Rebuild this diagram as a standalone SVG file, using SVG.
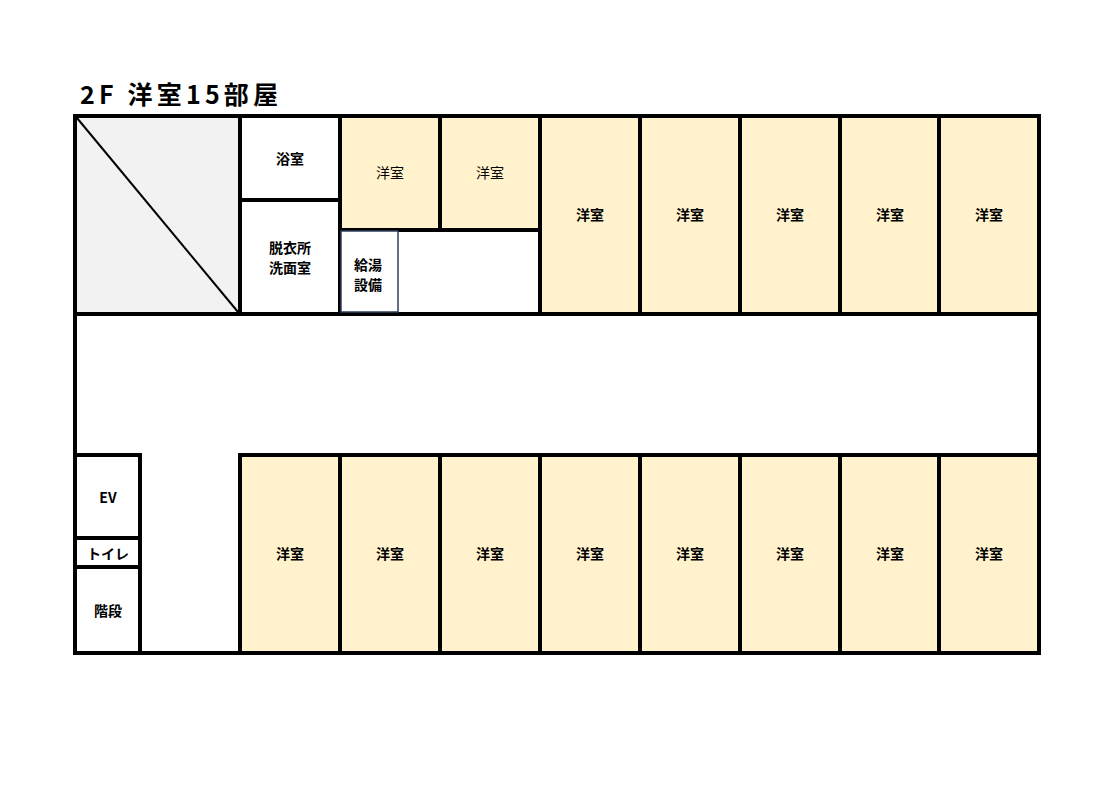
<svg xmlns="http://www.w3.org/2000/svg" width="1117" height="785" viewBox="0 0 1117 785">
<style>
.w{fill:#fff;stroke:#000;stroke-width:4}
.r{fill:#FFF2CC;stroke:#000;stroke-width:4}
.g{fill:#F2F2F2;stroke:#000;stroke-width:4}
text{font-family:"Noto Sans CJK JP",sans-serif;font-size:14px;text-anchor:middle;dominant-baseline:central;fill:#000;font-weight:bold}
.n{font-weight:normal}
</style>
<rect width="1117" height="785" fill="#fff"/>
<text x="80" y="93" style="font-size:25px;text-anchor:start" textLength="198" lengthAdjust="spacing">2F  洋室15部屋</text>
<g id="outer"><rect class="w" x="75" y="116" width="964" height="537"/></g>
<g id="void"><rect class="g" x="75" y="116" width="165" height="198"/><line x1="77" y1="118" x2="238" y2="312" stroke="#000" stroke-width="2"/></g>
<g id="bath"><rect class="w" x="240" y="116" width="100" height="84"/><text x="290" y="158">浴室</text></g>
<g id="dressing"><rect class="w" x="240" y="200" width="100" height="114"/><text x="290" y="247">脱衣所</text><text x="290" y="267">洗面室</text></g>
<g id="r1"><rect class="r" x="340" y="116" width="100" height="114"/><text class="n" x="390" y="172">洋室</text></g>
<g id="r2"><rect class="r" x="440" y="116" width="100" height="114"/><text class="n" x="490" y="172">洋室</text></g>
<g id="space"><rect class="w" x="340" y="230" width="200" height="84"/></g>
<g id="boiler"><rect x="341" y="231" width="57" height="81" fill="#fff" stroke="#2F3E5C" stroke-width="1.5"/><text x="368" y="264">給湯</text><text x="368" y="284">設備</text></g>
<g id="top-rooms">
<rect class="r" x="540" y="116" width="100" height="198"/><text x="590" y="214">洋室</text>
<rect class="r" x="640" y="116" width="100" height="198"/><text x="690" y="214">洋室</text>
<rect class="r" x="740" y="116" width="100" height="198"/><text x="790" y="214">洋室</text>
<rect class="r" x="840" y="116" width="99" height="198"/><text x="890" y="214">洋室</text>
<rect class="r" x="939" y="116" width="100" height="198"/><text x="989" y="214">洋室</text>
</g>
<g id="ev"><rect class="w" x="75" y="455" width="65" height="83"/><text x="108" y="497">EV</text></g>
<g id="wc"><rect class="w" x="75" y="538" width="65" height="29"/><text x="108" y="553">トイレ</text></g>
<g id="stairs"><rect class="w" x="75" y="567" width="65" height="86"/><text x="108" y="610">階段</text></g>
<g id="bottom-rooms">
<rect class="r" x="240" y="455" width="100" height="198"/><text x="290" y="553">洋室</text>
<rect class="r" x="340" y="455" width="100" height="198"/><text x="390" y="553">洋室</text>
<rect class="r" x="440" y="455" width="100" height="198"/><text x="490" y="553">洋室</text>
<rect class="r" x="540" y="455" width="100" height="198"/><text x="590" y="553">洋室</text>
<rect class="r" x="640" y="455" width="100" height="198"/><text x="690" y="553">洋室</text>
<rect class="r" x="740" y="455" width="100" height="198"/><text x="790" y="553">洋室</text>
<rect class="r" x="840" y="455" width="99" height="198"/><text x="890" y="553">洋室</text>
<rect class="r" x="939" y="455" width="100" height="198"/><text x="989" y="553">洋室</text>
</g>
<g id="connectors"/>
</svg>
